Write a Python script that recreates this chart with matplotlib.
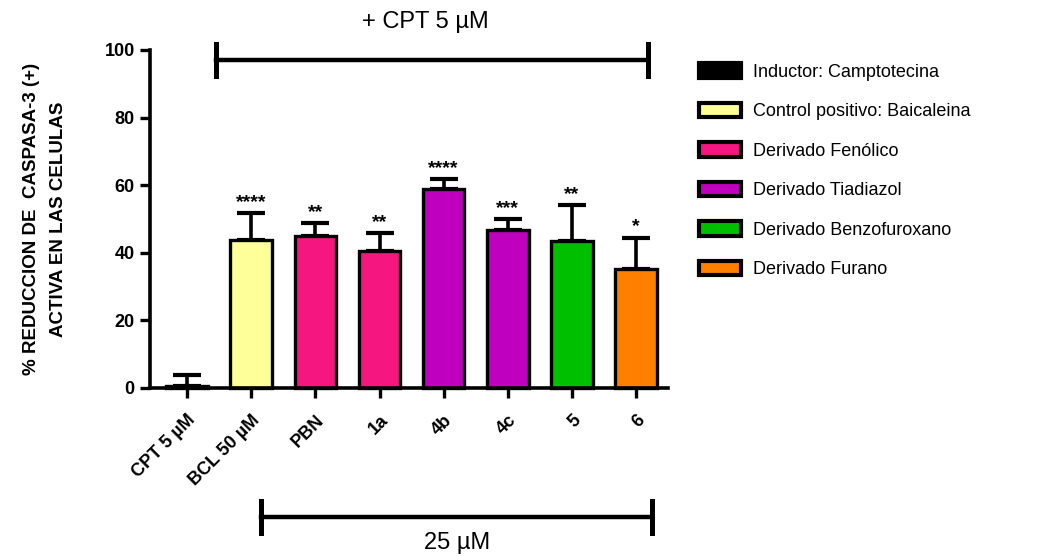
import matplotlib
matplotlib.use("Agg")
import matplotlib.pyplot as plt
from matplotlib.patches import Patch

plt.rcParams['font.family'] = ['Liberation Sans', 'DejaVu Sans']

categories = ["CPT 5 µM", "BCL 50 µM", "PBN", "1a", "4b", "4c", "5", "6"]
values = [0.5, 43.7, 45.1, 40.6, 58.9, 46.7, 43.5, 35.3]
errors = [3.3, 8.0, 3.8, 5.2, 3.0, 3.3, 10.5, 9.2]
stars = ["", "****", "**", "**", "****", "***", "**", "*"]
colors = ["#000000", "#FFFF99", "#F5177F", "#F5177F", "#BF00BF", "#BF00BF", "#00BF00", "#FF8000"]
legend_labels = ["Inductor: Camptotecina", "Control positivo: Baicaleina", "Derivado Fenólico",
                 "Derivado Tiadiazol", "Derivado Benzofuroxano", "Derivado Furano"]
legend_colors = ["#000000", "#FFFF99", "#F5177F", "#BF00BF", "#00BF00", "#FF8000"]
yticks = [0, 20, 40, 60, 80, 100]

fig = plt.figure(figsize=(10.47, 5.56), dpi=100)
ax = fig.add_axes([150/1047, 1-388/556, (668-150)/1047, (388-50)/556])

x = list(range(len(categories)))
ax.bar(x, values, width=0.65, color=colors, edgecolor="black", linewidth=2.4, zorder=2, clip_on=False)
for xi, v, e in zip(x, values, errors):
    ax.errorbar([xi], [v], yerr=[[0], [e]], fmt="none", ecolor="black", elinewidth=2.6,
                capsize=10, capthick=3.0, zorder=1, clip_on=False)
for xi, v, e, s in zip(x, values, errors, stars):
    if s:
        ax.text(xi, v + e + 0.6, s, ha="center", va="bottom", fontsize=14, fontweight="bold")

ax.set_xlim(-0.58, 7.5)
ax.set_ylim(0, 100)
ax.set_yticks(yticks)
ax.set_xticks(x)
ax.set_xticklabels(categories, rotation=45, ha="right", rotation_mode="anchor",
                   fontsize=13, fontweight="bold")
ax.tick_params(axis="y", labelsize=13, width=2.4, length=7, pad=4)
for lab in ax.get_yticklabels():
    lab.set_fontweight("bold")
ax.tick_params(axis="x", width=2.4, length=7, pad=10)
for s in ["top", "right"]:
    ax.spines[s].set_visible(False)
for s in ["left", "bottom"]:
    ax.spines[s].set_linewidth(2.6)

ax.set_ylabel("% REDUCCION DE  CASPASA-3 (+)\nACTIVA EN LAS CELULAS", fontsize=13.5,
              fontweight="bold", linespacing=1.75)
ax.yaxis.set_label_coords(-0.16, 0.5)

def bracket(y_px, x0_px, x1_px):
    yf = 1 - y_px/556
    x0, x1 = x0_px/1047, x1_px/1047
    fig.add_artist(plt.Line2D([x0, x1], [yf, yf], color="black", lw=3.2, transform=fig.transFigure))
    for xx in (x0, x1):
        fig.add_artist(plt.Line2D([xx, xx], [yf-16/556, yf+16/556], color="black", lw=3.6,
                                  transform=fig.transFigure))

bracket(60, 216, 648)
fig.text(425/1047, 1-22/556, "+ CPT 5 µM", ha="center", va="center", fontsize=17)
bracket(517, 261, 652)
fig.text(457/1047, 1-543/556, "25 µM", ha="center", va="center", fontsize=17)

handles = [Patch(facecolor=c, edgecolor="black", linewidth=3) for c in legend_colors]
leg = fig.legend(handles, legend_labels, loc="upper left", bbox_to_anchor=(683/1047, 1-47/556),
                 frameon=False, fontsize=13, labelspacing=1.22, handlelength=2.3,
                 handleheight=0.85, handletextpad=0.7)

fig.savefig("out.png", dpi=100)
